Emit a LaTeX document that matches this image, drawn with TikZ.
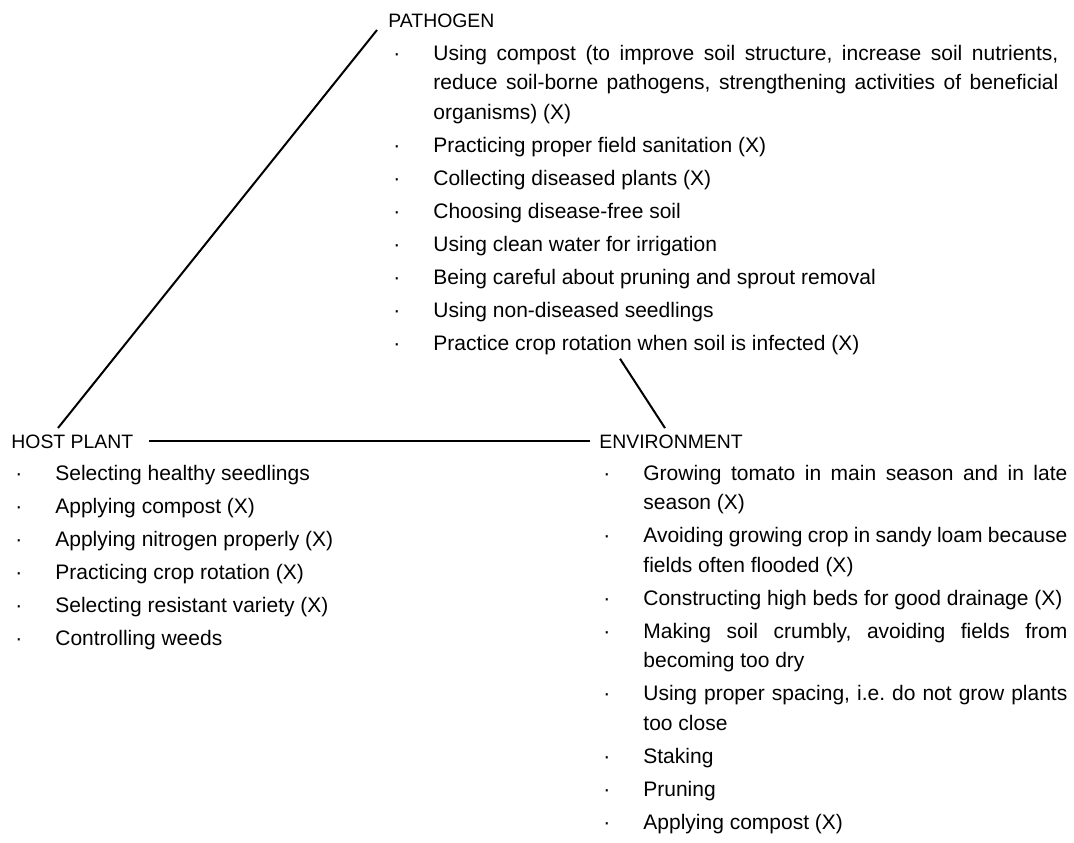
\documentclass[tikz,border=0pt]{standalone}
\usepackage{fontspec}
\setmainfont{Liberation Sans}
\usetikzlibrary{positioning,calc}
\frenchspacing
\hyphenpenalty=10000
\exhyphenpenalty=10000

% one entry of a list: small dot, then hanging text
\newcommand{\bitem}[1]{\setlength{\parskip}{1.75pt}\tolerance=9999%
  \hangindent=20pt\hangafter=1\makebox[20pt][l]{·}#1\par}

\tikzset{
  lbl/.style={inner sep=0pt,anchor=base west,
              font=\fontsize{9.7pt}{11pt}\selectfont},
  lst/.style={inner sep=0pt,anchor=base west,text width=#1,align=justify,
              font=\fontsize{10.5pt}{14.75pt}\selectfont},
  lst/.default=230pt,
  conn/.style={line width=1pt,color=black},
}

\begin{document}
\begin{tikzpicture}[x=0.5pt,y=-0.5pt]
  \useasboundingbox (0,0) rectangle (1074,842);

  % --- triangle corners ---
  \node[lbl] (path) at (388,27) {PATHOGEN};
  \node[lbl] (host) at (11,448) {HOST PLANT};
  \node[lbl] (env) at (599,448) {ENVIRONMENT};

  % --- lists under each corner ---
  \node[lst=332.5pt] (pathl) at ($(path.base west)+(5,33)$)
    {\bitem{Using compost (to improve soil structure, increase soil nutrients,\linebreak
            reduce soil-borne pathogens, strengthening activities of beneficial\linebreak
            organisms) (X)}
     \bitem{Practicing proper field sanitation (X)}
     \bitem{Collecting diseased plants (X)}
     \bitem{Choosing disease-free soil}
     \bitem{Using clean water for irrigation}
     \bitem{Being careful about pruning and sprout removal}
     \bitem{Using non-diseased seedlings}
     \bitem{Practice crop rotation when soil is infected (X)}};

  \node[lst] (hostl) at ($(host.base west)+(4,32)$)
    {\bitem{Selecting healthy seedlings}
     \bitem{Applying compost (X)}
     \bitem{Applying nitrogen properly (X)}
     \bitem{Practicing crop rotation (X)}
     \bitem{Selecting resistant variety (X)}
     \bitem{Controlling weeds}};

  \node[lst=232pt] (envl) at ($(env.base west)+(4,32)$)
    {\bitem{Growing tomato in main season and in late\linebreak season (X)}
     \bitem{Avoiding growing crop in sandy loam because\linebreak fields often flooded (X)}
     \bitem{Constructing high beds for good drainage (X)}
     \bitem{Making soil crumbly, avoiding fields from\linebreak becoming too dry}
     \bitem{Using proper spacing, i.e. do not grow plants\linebreak too close}
     \bitem{Staking}
     \bitem{Pruning}
     \bitem{Applying compost (X)}};

  % --- sides of the triangle ---
  \draw[conn] ($(host.base west)+(47,-20)$) -- ($(path.base west)+(-11,3)$);
  \draw[conn,shorten <=7.6pt,shorten >=4.5pt] (host.east) -- (env.west);
  \draw[conn] ($(pathl.south west)+(227,4)$) -- ($(env.north west)+(66,-6)$);
\end{tikzpicture}
\end{document}
